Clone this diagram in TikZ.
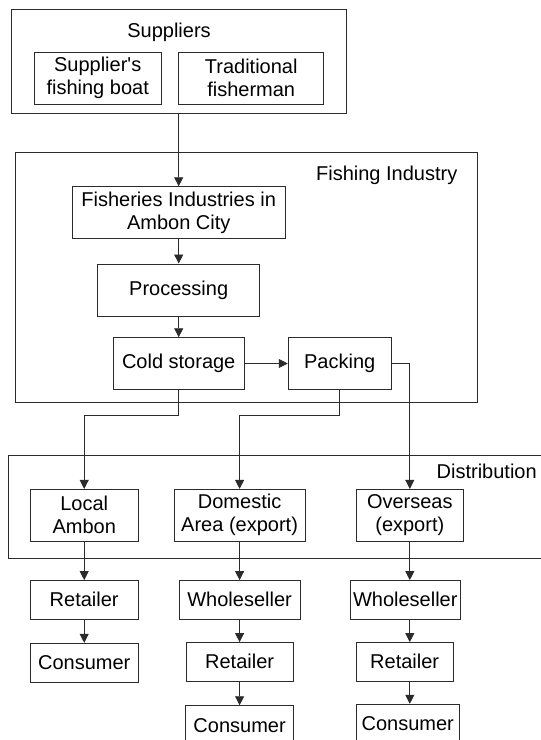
\documentclass[tikz,border=0pt]{standalone}
\usepackage{fontspec}
\setmainfont{Liberation Sans}
\usetikzlibrary{arrows.meta,positioning}
\definecolor{line}{HTML}{2B2B2B}

\begin{document}
\begin{tikzpicture}[
  x=1pt, y=-1pt,
  font=\fontsize{20}{23}\selectfont,
  box/.style={draw=line, line width=0.9pt, inner sep=0pt, minimum height=52pt, align=center},
  lowbox/.style={box, minimum height=38.5pt},
  group/.style={draw=line, line width=0.9pt, inner sep=0pt},
  title/.style={anchor=base, inner sep=0pt},
  arr/.style={-{Triangle[length=9pt,width=9pt]}, draw=line, line width=0.9pt}
]
\useasboundingbox (0,0) rectangle (541,740);
\clip (0,0) rectangle (541,740);

% containers
\node[group, minimum width=335.3pt, minimum height=104pt] (suppliers) at (179.05,61.3) {};
\node[group, minimum width=462.5pt, minimum height=250pt] (industry) at (246.45,277.7) {};
\node[group, minimum width=551.4pt, minimum height=103.3pt] (distribution) at (284.3,506.65) {};
\node[title] (supt) at (169,37.5) {Suppliers};
\node[title] (indt) at (386.7,180) {Fishing Industry};
\node[title] (dist) at (486.7,478.3) {Distribution};

% suppliers
\node[box, minimum width=127pt] (boat) at (97.7,78.3) {Supplier\textquotesingle s\\fishing boat};
\node[box, minimum width=145pt] (trad) at (251.2,78.3) {Traditional\\fisherman};

% fishing industry
\node[box, minimum width=212.5pt] (fish) at (178.7,212.7) {Fisheries Industries in\\Ambon City};
\node[box, minimum width=162pt, minimum height=52.7pt] (proc) at (178.7,290.3) {Processing};
\node[box, minimum width=131pt, minimum height=51.6pt] (cold) at (178.7,363.5) {Cold storage};
\node[box, minimum width=103pt, minimum height=51.6pt] (pack) at (339.7,363.5) {Packing};

% distribution
\node[box, minimum width=107.6pt, minimum height=51.7pt] (local) at (84.2,515.2) {Local\\Ambon};
\node[box, minimum width=130.7pt, minimum height=51.7pt] (dom) at (239.6,515.2) {Domestic\\Area (export)};
\node[box, minimum width=107.3pt, minimum height=51.7pt] (over) at (409.8,515.2) {Overseas\\(export)};

% market chains
\node[lowbox, minimum width=107.6pt] (ret1) at (84.2,599.8) {Retailer};
\node[lowbox, minimum width=107.6pt, minimum height=39pt] (con1) at (84.2,662.8) {Consumer};
\node[lowbox, minimum width=120.8pt] (whole2) at (239.6,599.8) {Wholeseller};
\node[lowbox, minimum width=107.3pt] (ret2) at (239.6,661.8) {Retailer};
\node[lowbox, minimum width=108pt, minimum height=39pt] (con2) at (239.6,725.2) {Consumer};
\node[lowbox, minimum width=110pt] (whole3) at (405.3,599.8) {Wholeseller};
\node[lowbox, minimum width=97.3pt] (ret3) at (404.7,661.8) {Retailer};
\node[lowbox, minimum width=103.3pt, minimum height=39pt] (con3) at (407.7,723.8) {Consumer};

\coordinate (split) at (0,415.7);

\draw[arr] (fish |- suppliers.south) -- (fish.north);
\draw[arr] (fish) -- (proc);
\draw[arr] (proc) -- (cold);
\draw[arr] (cold) -- (pack);
\draw[arr] (cold.south) -- (cold |- split) -| (local.north);
\draw[arr] (pack.south) -- (pack |- split) -| (dom.north);
\draw[arr] (pack.east) -| (over.north);

\draw[arr] (local) -- (ret1);
\draw[arr] (ret1) -- (con1);
\draw[arr] (dom) -- (whole2);
\draw[arr] (whole2) -- (ret2);
\draw[arr] (ret2) -- (con2);
\draw[arr] (over) -- (whole3.north -| over);
\draw[arr] (whole3.south -| over) -- (ret3.north -| over);
\draw[arr] (ret3.south -| over) -- (con3.north -| over);
\end{tikzpicture}
\end{document}
